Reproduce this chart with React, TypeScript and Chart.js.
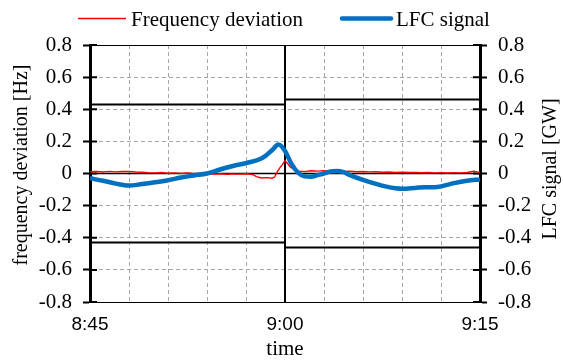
import React, { useEffect, useRef } from "react";
import { Chart, registerables } from "chart.js";

Chart.register(...registerables);

// minutes after 8:45
const lfcTimes = [0, 1, 2, 3, 4, 5, 6, 7, 8, 9, 10, 11, 12, 13, 13.5, 14, 14.5, 15, 15.5, 16, 16.5, 17, 17.5, 18, 18.5, 19, 19.5, 20, 21, 22, 22.8, 23.5, 24, 25, 25.8, 26.5, 27, 28, 29, 30];
const lfcSignal = [-0.03, -0.045, -0.063, -0.075, -0.066, -0.055, -0.042, -0.025, -0.012, 0.0, 0.025, 0.047, 0.065, 0.087, 0.11, 0.145, 0.18, 0.14, 0.06, 0.005, -0.018, -0.02, -0.01, 0.0, 0.012, 0.015, 0.008, -0.01, -0.04, -0.065, -0.082, -0.092, -0.095, -0.09, -0.085, -0.085, -0.08, -0.06, -0.045, -0.037];

const freqTimes = [0, 0.5, 1, 1.5, 2, 2.5, 3, 3.5, 4, 4.5, 5, 5.5, 6, 6.5, 7, 7.5, 8, 8.5, 9, 9.5, 10, 10.5, 11, 11.5, 12, 12.5, 12.8, 13.2, 13.6, 14.0, 14.2, 14.4, 14.6, 14.8, 15.0, 15.2, 15.4, 15.7, 16.0, 16.5, 17, 17.5, 18, 18.5, 19, 19.5, 20, 20.5, 21, 21.5, 22, 22.5, 23, 23.5, 24, 24.5, 25, 25.5, 26, 26.5, 27, 27.5, 28, 28.5, 29, 29.5, 29.8, 30];
const freqDeviation = [0.011, 0.012, 0.009, 0.013, 0.01, 0.012, 0.013, 0.009, 0.008, 0.005, 0.004, 0.006, 0.002, 0.004, 0.001, 0.003, -0.001, 0.001, -0.003, -0.004, -0.002, -0.005, -0.003, -0.004, -0.002, -0.006, -0.02, -0.028, -0.026, -0.03, -0.022, 0.01, 0.035, 0.055, 0.08, 0.062, 0.04, 0.025, 0.014, 0.012, 0.017, 0.015, 0.018, 0.014, 0.016, 0.013, 0.014, 0.011, 0.012, 0.01, 0.011, 0.008, 0.009, 0.007, 0.008, 0.006, 0.007, 0.005, 0.006, 0.004, 0.005, 0.003, 0.005, 0.004, 0.006, 0.014, 0.01, 0.008];

const limitTimes = [0, 15, 30];
const upperLimit = [0.43, 0.46, 0.46];
const lowerLimit = [-0.43, -0.46, -0.46];

const xLabelValues = [0, 15, 30];
const xLabelTexts = ["8:45", "9:00", "9:15"];

const SERIF = '"Liberation Serif", "Times New Roman", serif';
const SANS = '"Liberation Sans", Arial, sans-serif';
const BLUE = "#0070C0";
const RED = "#FF0000";
const GRID = "#A6A6A6";

const toXY = (xs: number[], ys: number[]) => xs.map((x, i) => ({ x, y: ys[i] }));
const fmtY = (v: number) => {
  const r = Math.round(v * 10) / 10;
  return r === 0 ? "0" : r.toString();
};

const overlay = {
  id: "overlay",
  beforeDatasetsDraw(chart: any) {
    const { ctx, chartArea: ca, scales } = chart;
    const x = scales.x;
    const y = scales.y;
    ctx.save();
    ctx.strokeStyle = "#000";
    ctx.lineWidth = 1;
    ctx.beginPath();
    ctx.moveTo(ca.left, Math.round(ca.top) + 0.5);
    ctx.lineTo(ca.right, Math.round(ca.top) + 0.5);
    ctx.moveTo(ca.left, Math.round(ca.bottom) + 0.5);
    ctx.lineTo(ca.right, Math.round(ca.bottom) + 0.5);
    ctx.stroke();
    const y0 = y.getPixelForValue(0);
    ctx.lineWidth = 1.6;
    ctx.beginPath();
    ctx.moveTo(ca.left, y0);
    ctx.lineTo(ca.right, y0);
    ctx.stroke();
    const x15 = x.getPixelForValue(15);
    ctx.lineWidth = 2;
    ctx.beginPath();
    ctx.moveTo(x15, ca.top);
    ctx.lineTo(x15, ca.bottom);
    ctx.stroke();
    ctx.lineWidth = 2;
    ctx.beginPath();
    y.ticks.forEach((t: any) => {
      const p = y.getPixelForValue(t.value);
      ctx.moveTo(ca.left, p);
      ctx.lineTo(ca.left + 7, p);
      ctx.moveTo(ca.right - 7, p);
      ctx.lineTo(ca.right, p);
    });
    ctx.stroke();
    ctx.restore();
  },
  afterDraw(chart: any) {
    const { ctx } = chart;
    ctx.save();
    ctx.lineCap = "butt";
    ctx.strokeStyle = RED;
    ctx.lineWidth = 1.5;
    ctx.beginPath();
    ctx.moveTo(78, 18.5);
    ctx.lineTo(126, 18.5);
    ctx.stroke();
    ctx.strokeStyle = BLUE;
    ctx.lineWidth = 4.5;
    ctx.lineCap = "round";
    ctx.beginPath();
    ctx.moveTo(342, 18.5);
    ctx.lineTo(391, 18.5);
    ctx.stroke();
    ctx.fillStyle = "#000";
    ctx.font = `21px ${SERIF}`;
    ctx.textAlign = "left";
    ctx.textBaseline = "alphabetic";
    ctx.fillText("Frequency deviation", 131, 26);
    ctx.fillText("LFC signal", 396, 26);
    ctx.font = `20px ${SERIF}`;
    ctx.textAlign = "center";
    ctx.textBaseline = "middle";
    ctx.save();
    ctx.translate(22, 165);
    ctx.rotate(-Math.PI / 2);
    ctx.fillText("frequency deviation [Hz]", 0, 0);
    ctx.restore();
    ctx.save();
    ctx.translate(551, 169);
    ctx.rotate(-Math.PI / 2);
    ctx.fillText("LFC signal [GW]", 0, 0);
    ctx.restore();
    ctx.font = `21px ${SERIF}`;
    ctx.fillText("time", 285, 349);
    ctx.restore();
  },
};

export default function App() {
  const ref = useRef<HTMLCanvasElement | null>(null);
  useEffect(() => {
    document.body.style.margin = "0";
    const canvas = ref.current;
    if (!canvas) return;
    const yRange = { min: -0.8, max: 0.8 };
    const chart = new Chart(canvas, {
      type: "line",
      data: {
        datasets: [
          {
            label: "Upper limit",
            data: toXY(limitTimes, upperLimit),
            borderColor: "#000",
            borderWidth: 2,
            stepped: true,
            pointRadius: 0,
            yAxisID: "y",
          },
          {
            label: "Lower limit",
            data: toXY(limitTimes, lowerLimit),
            borderColor: "#000",
            borderWidth: 2,
            stepped: true,
            pointRadius: 0,
            yAxisID: "y",
          },
          {
            label: "LFC signal",
            data: toXY(lfcTimes, lfcSignal),
            borderColor: BLUE,
            borderWidth: 4.5,
            pointRadius: 0,
            tension: 0.4,
            cubicInterpolationMode: "monotone",
            yAxisID: "y2",
          },
          {
            label: "Frequency deviation",
            data: toXY(freqTimes, freqDeviation),
            borderColor: RED,
            borderWidth: 1.4,
            pointRadius: 0,
            tension: 0,
            yAxisID: "y",
          },
        ] as any,
      },
      options: {
        responsive: false,
        animation: false,
        devicePixelRatio: 1,
        layout: { padding: { top: 45, left: 0, right: 0, bottom: 0 } },
        plugins: { legend: { display: false }, tooltip: { enabled: false } },
        scales: {
          x: {
            type: "linear",
            min: 0,
            max: 30,
            afterFit: (s: any) => {
              s.height = 58;
            },
            afterBuildTicks: (s: any) => {
              const t = [];
              for (let v = 0; v <= 30; v += 3) t.push({ value: v });
              s.ticks = t;
            },
            ticks: {
              autoSkip: false,
              maxRotation: 0,
              padding: 11,
              color: "#000",
              font: { family: SANS, size: 19 },
              callback: (v: any) => {
                const i = xLabelValues.indexOf(Number(v));
                return i >= 0 ? xLabelTexts[i] : "";
              },
            },
            grid: {
              color: (c: any) => {
                const v = c.tick ? c.tick.value : null;
                return v === 0 || v === 15 || v === 30 ? "rgba(0,0,0,0)" : GRID;
              },
              lineWidth: 1,
              drawTicks: false,
            },
            border: { display: false, dash: [4, 3] },
          },
          y: {
            type: "linear",
            position: "left",
            ...yRange,
            afterFit: (s: any) => {
              s.width = 90;
            },
            ticks: {
              stepSize: 0.2,
              padding: 11,
              color: "#000",
              font: { family: SERIF, size: 21 },
              callback: (v: any) => fmtY(Number(v)),
            },
            grid: {
              color: (c: any) => {
                const v = c.tick ? c.tick.value : 0;
                return Math.abs(v) > 0.79 ? "rgba(0,0,0,0)" : GRID;
              },
              lineWidth: 1,
              tickColor: "#000",
              tickLength: 7,
              tickWidth: 2,
            },
            border: { display: true, color: "#000", width: 3, dash: [4, 3] },
          },
          y2: {
            type: "linear",
            position: "right",
            ...yRange,
            afterFit: (s: any) => {
              s.width = 83;
            },
            ticks: {
              stepSize: 0.2,
              padding: 11,
              color: "#000",
              font: { family: SERIF, size: 21 },
              callback: (v: any) => fmtY(Number(v)),
            },
            grid: {
              drawOnChartArea: false,
              tickColor: "#000",
              tickLength: 7,
              tickWidth: 2,
            },
            border: { display: true, color: "#000", width: 3 },
          },
        },
      } as any,
      plugins: [overlay],
    });
    return () => chart.destroy();
  }, []);
  return (
    <div style={{ position: "relative", width: 563, height: 360 }}>
      <canvas ref={ref} width={563} height={360} style={{ display: "block" }} />
    </div>
  );
}
